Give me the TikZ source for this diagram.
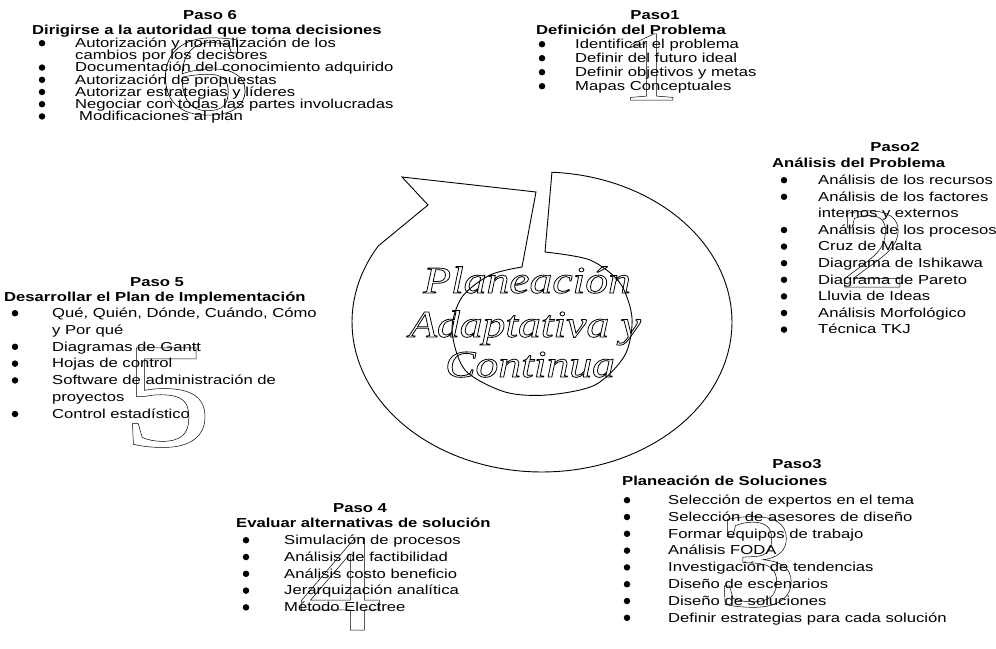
\documentclass[tikz,border=0pt]{standalone}
\usepackage{graphicx}
\usepackage{fontspec}
\setmainfont{Liberation Sans}[FakeStretch=1.28]
\newfontfamily\mottofont{Liberation Serif}[FakeStretch=1.2]
\newfontfamily\digitfont{Liberation Serif}[FakeStretch=1.2]
% stroke-only glyphs (PDF text render mode 1)
\newcommand\hollowtext[2]{\special{pdf:literal direct 1 Tr #1 w}#2\special{pdf:literal direct 0 Tr}}

\begin{document}
\begin{tikzpicture}[x=1pt,y=-1pt,
  txt/.style={inner sep=0pt, anchor=base west, font=\fontsize{13}{13}\selectfont},
  steptitle/.style={inner sep=0pt, anchor=base, font=\fontsize{13}{13}\selectfont\bfseries},
  stephead/.style={inner sep=0pt, anchor=base west, font=\fontsize{13}{13}\selectfont\bfseries},
  bul/.style={circle, fill=black, inner sep=0pt, minimum size=6.5pt},
  ring/.style={line width=0.9pt, line join=miter},
  bigdigit/.style={inner sep=0pt, anchor=base, text depth=0pt,
    font=\digitfont\fontsize{#1}{#1}\selectfont},
  motto/.style={inner sep=0pt, anchor=base, font=\mottofont\itshape\fontsize{38}{38}\selectfont}
]
\useasboundingbox (0,0) rectangle (996,648);

% ---- central cycle arrow ----
\draw[ring] plot[domain=-87:210.5, samples=120] ({542+190*cos(\x)},{322+150*sin(\x)})
  -- (428,205) -- (402,177) -- (536,192) -- (522,267)
  -- plot[smooth] coordinates {(522,267) (490,275) (462,297) (452,330) (465,370)
       (505,392) (547,395) (595,385) (625,355) (632,318) (620,283) (590,260) (545,252)}
  -- cycle;

% ---- Paso 6 ----
\node[steptitle] (s6) at (210,19) {Paso 6};
\node[stephead] (h6) at (32,34.5) {Dirigirse a la autoridad que toma decisiones};
\foreach \b/\t [count=\i from 0] in {1/Autorización y normalización de los,
  0/cambios por los decisores, 1/Documentación del conocimiento adquirido,
  1/Autorización de propuestas, 1/Autorizar estrategias y líderes,
  1/Negociar con todas las partes involucradas, 1/\hspace{4pt}Modificaciones al plan}{
  \node[txt] (s6t\i) at (75,{47.5+12.2*\i}) {\t};
  \ifnum\b=1 \node[bul] (s6b\i) at (42,{43.2+12.2*\i}) {};\fi
}

% ---- Paso 1 ----
\node[steptitle] (s1) at (655,19) {Paso1};
\node[stephead] (h1) at (536,34.5) {Definición del Problema};
\foreach \b/\t [count=\i from 0] in {1/Identificar el problema,
  1/Definir del futuro ideal, 1/Definir objetivos y metas, 1/Mapas Conceptuales}{
  \node[txt] (s1t\i) at (575,{48.5+14*\i}) {\t};
  \ifnum\b=1 \node[bul] (s1b\i) at (542,{44.2+14*\i}) {};\fi
}

% ---- Paso 2 ----
\node[steptitle] (s2) at (895,151) {Paso2};
\node[stephead] (h2) at (772,167.5) {Análisis del Problema};
\foreach \b/\t [count=\i from 0] in {1/Análisis de los recursos,
  1/Análisis de los factores, 0/internos y externos, 1/Análisis de los procesos,
  1/Cruz de Malta, 1/Diagrama de Ishikawa, 1/Diagrama de Pareto,
  1/Lluvia de Ideas, 1/Análisis Morfológico, 1/Técnica TKJ}{
  \node[txt] (s2t\i) at (818,{184.5+16.6*\i}) {\t};
  \ifnum\b=1 \node[bul] (s2b\i) at (784,{180.2+16.6*\i}) {};\fi
}

% ---- Paso 5 ----
\node[steptitle] (s5) at (157,286) {Paso 5};
\node[stephead] (h5) at (4,301.5) {Desarrollar el Plan de Implementación};
\foreach \b/\t [count=\i from 0] in {1/{Qué, Quién, Dónde, Cuándo, Cómo},
  0/y Por qué, 1/Diagramas de Gantt, 1/Hojas de control,
  1/Software de administración de, 0/proyectos, 1/Control estadístico}{
  \node[txt] (s5t\i) at (52,{317.5+16.8*\i}) {\t};
  \ifnum\b=1 \node[bul] (s5b\i) at (15,{313.2+16.8*\i}) {};\fi
}

% ---- Paso 4 ----
\node[steptitle] (s4) at (360,512) {Paso 4};
\node[stephead] (h4) at (236,527.5) {Evaluar alternativas de solución};
\foreach \b/\t [count=\i from 0] in {1/Simulación de procesos,
  1/Análisis de factibilidad, 1/Análisis costo beneficio,
  1/Jerarquización analítica, 1/Método Electree}{
  \node[txt] (s4t\i) at (284,{544.5+16.8*\i}) {\t};
  \ifnum\b=1 \node[bul] (s4b\i) at (246,{540.2+16.8*\i}) {};\fi
}

% ---- Paso 3 ----
\node[steptitle] (s3) at (797,468) {Paso3};
\node[stephead] (h3) at (622,485.5) {Planeación de Soluciones};
\foreach \b/\t [count=\i from 0] in {1/Selección de expertos en el tema,
  1/Selección de asesores de diseño, 1/Formar equipos de trabajo,
  1/Análisis FODA, 1/Investigación de tendencias, 1/Diseño de escenarios,
  1/Diseño de soluciones, 1/Definir estrategias para cada solución}{
  \node[txt] (s3t\i) at (668,{504.5+16.8*\i}) {\t};
  \ifnum\b=1 \node[bul] (s3b\i) at (627,{500.2+16.8*\i}) {};\fi
}

% ---- outlined motto in the centre ----
\node[motto] (m1) at (527,293) {\hollowtext{0.8}{Planeación}};
\node[motto] (m2) at (525,337) {\hollowtext{0.8}{Adaptativa y}};
\node[motto] (m3) at (530,377) {\hollowtext{0.8}{Continua}};

% ---- large outlined step numbers ----
\node[bigdigit=100] (n1) at (650,100) {\hollowtext{0.5}{1}};
\node[bigdigit=115] (n2) at (873,287) {\hollowtext{0.5}{2}};
\node[bigdigit=135] (n3) at (757,606) {\hollowtext{0.5}{3}};
\node[bigdigit=140] (n4) at (340,630) {\hollowtext{0.5}{4}};
\node[bigdigit=150] (n5) at (167,446) {\hollowtext{0.5}{5}};
\node[bigdigit=115] (n6) at (204,114) {\scalebox{1.35}[1]{\hollowtext{0.5}{6}}};
\end{tikzpicture}
\end{document}
